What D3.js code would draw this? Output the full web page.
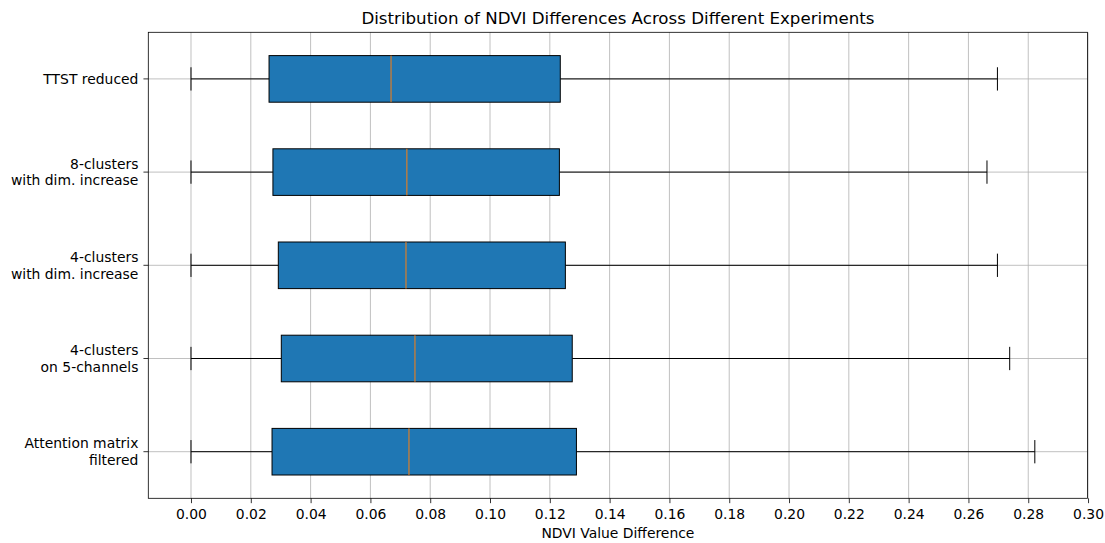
<!DOCTYPE html>
<html>
<head>
<meta charset="utf-8">
<script src="https://cdn.jsdelivr.net/npm/d3@7"></script>
<style>
  html, body { margin: 0; padding: 0; background: #fff; }
  svg { display: block; font-family: "DejaVu Sans", sans-serif; }
</style>
</head>
<body>
<svg id="chart" width="1105" height="543"></svg>
<script>
// Experiment names, bottom to top (position 1..5)
const experiments = [
  ["Attention matrix", "filtered"],
  ["4-clusters", "on 5-channels"],
  ["4-clusters", "with dim. increase"],
  ["8-clusters", "with dim. increase"],
  ["TTST reduced"]
];
// Five-number summaries per experiment (same order)
const whiskerLow = [0.0, 0.0, 0.0, 0.0, 0.0];
const q1         = [0.0271, 0.0302, 0.0292, 0.0274, 0.0261];
const medians    = [0.0729, 0.0749, 0.0719, 0.0722, 0.0669];
const q3         = [0.1289, 0.1275, 0.1252, 0.1232, 0.1235];
const whiskerHigh= [0.2822, 0.2738, 0.2697, 0.2662, 0.2697];

const xTicks = [0.00, 0.02, 0.04, 0.06, 0.08, 0.10, 0.12, 0.14, 0.16, 0.18, 0.20, 0.22, 0.24, 0.26, 0.28, 0.30];

const titleText = "Distribution of NDVI Differences Across Different Experiments";
const xLabelText = "NDVI Value Difference";

const svg = d3.select("#chart");
const L = 148.3, R = 1087.5, T = 32.3, B = 498.3;
const fs = 13.9;

const x = d3.scaleLinear().domain([-0.01428, 0.29982]).range([L, R]);
const y = d3.scaleLinear().domain([0.5, 5.5]).range([B, T]);
const boxW = 0.5, capW = 0.25;

// grid
const grid = svg.append("g").attr("stroke", "#b0b0b0").attr("stroke-width", 0.8);
xTicks.forEach(t => {
  grid.append("line").attr("x1", x(t)).attr("x2", x(t)).attr("y1", T).attr("y2", B);
});
experiments.forEach((e, i) => {
  grid.append("line").attr("x1", L).attr("x2", R).attr("y1", y(i + 1)).attr("y2", y(i + 1));
});

// boxes
const boxes = svg.append("g");
experiments.forEach((e, i) => {
  const p = i + 1;
  const g = boxes.append("g");
  // whiskers
  g.append("line").attr("x1", x(whiskerLow[i])).attr("x2", x(q1[i]))
    .attr("y1", y(p)).attr("y2", y(p)).attr("stroke", "#000").attr("stroke-width", 1);
  g.append("line").attr("x1", x(q3[i])).attr("x2", x(whiskerHigh[i]))
    .attr("y1", y(p)).attr("y2", y(p)).attr("stroke", "#000").attr("stroke-width", 1);
  // caps
  [whiskerLow[i], whiskerHigh[i]].forEach(v => {
    g.append("line").attr("x1", x(v)).attr("x2", x(v))
      .attr("y1", y(p + capW / 2)).attr("y2", y(p - capW / 2))
      .attr("stroke", "#000").attr("stroke-width", 1);
  });
  // box
  g.append("rect")
    .attr("x", x(q1[i])).attr("width", x(q3[i]) - x(q1[i]))
    .attr("y", y(p + boxW / 2)).attr("height", y(p - boxW / 2) - y(p + boxW / 2))
    .attr("fill", "#1f77b4").attr("stroke", "#000").attr("stroke-width", 1);
  // median
  g.append("line").attr("x1", x(medians[i])).attr("x2", x(medians[i]))
    .attr("y1", y(p + boxW / 2)).attr("y2", y(p - boxW / 2))
    .attr("stroke", "#ff7f0e").attr("stroke-width", 1);
});

// frame
svg.append("rect").attr("x", L).attr("y", T).attr("width", R - L).attr("height", B - T)
  .attr("fill", "none").attr("stroke", "#000").attr("stroke-width", 0.8);

// x axis
const xAxis = d3.axisBottom(x).tickValues(xTicks).tickFormat(d3.format(".2f"))
  .tickSizeInner(4.86).tickSizeOuter(0).tickPadding(4.86);
const gx = svg.append("g").attr("transform", `translate(0,${B})`).call(xAxis);
gx.select(".domain").remove();
gx.selectAll(".tick line").attr("stroke", "#000").attr("stroke-width", 0.8);
gx.selectAll(".tick text").attr("font-size", fs).attr("font-family", "DejaVu Sans")
  .attr("fill", "#000").attr("dy", null).attr("y", 21.2);

// y axis ticks and multi-line labels
const gy = svg.append("g");
experiments.forEach((lines, i) => {
  const yy = y(i + 1);
  gy.append("line").attr("x1", L - 4.86).attr("x2", L).attr("y1", yy).attr("y2", yy)
    .attr("stroke", "#000").attr("stroke-width", 0.8);
  const lh = 16.7;
  const n = lines.length;
  lines.forEach((s, k) => {
    const cy = yy + (k - (n - 1) / 2) * lh;
    gy.append("text").attr("x", L - 9.9).attr("y", cy + 5.0)
      .attr("text-anchor", "end").attr("font-size", fs).attr("fill", "#000").text(s);
  });
});

// labels
svg.append("text").attr("x", (L + R) / 2).attr("y", 538)
  .attr("text-anchor", "middle").attr("font-size", fs).attr("fill", "#000").text(xLabelText);
svg.append("text").attr("x", (L + R) / 2).attr("y", 23.5)
  .attr("text-anchor", "middle").attr("font-size", 16.67).attr("fill", "#000").text(titleText);
</script>
</body>
</html>
